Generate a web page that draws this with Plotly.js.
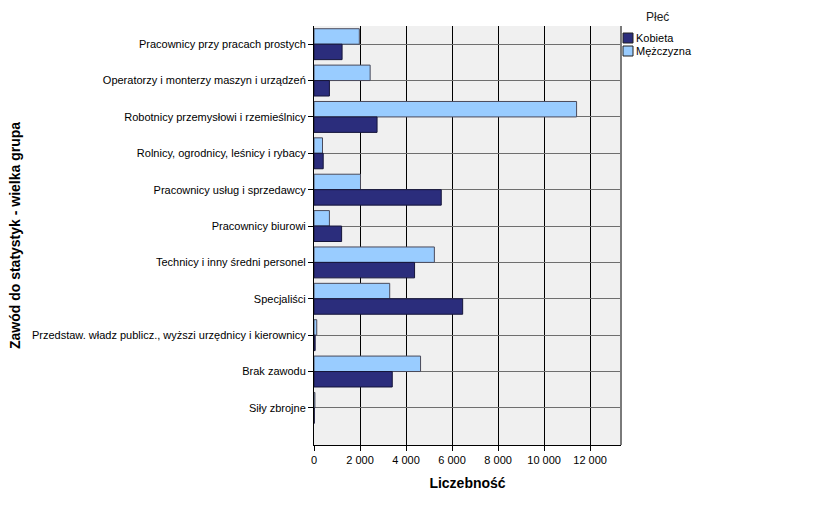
<!DOCTYPE html>
<html>
<head>
<meta charset="utf-8">
<script src="https://cdn.plot.ly/plotly-3.0.1.min.js"></script>
<style>html,body{margin:0;padding:0;background:#fff;}#chart{width:829px;height:505px;}</style>
</head>
<body>
<div id="chart"></div>
<script>
const categories = [
  "Pracownicy przy pracach prostych",
  "Operatorzy i monterzy maszyn i urządzeń",
  "Robotnicy przemysłowi i rzemieślnicy",
  "Rolnicy, ogrodnicy, leśnicy i rybacy",
  "Pracownicy usług i sprzedawcy",
  "Pracownicy biurowi",
  "Technicy i inny średni personel",
  "Specjaliści",
  "Przedstaw. władz publicz., wyższi urzędnicy i kierownicy",
  "Brak zawodu",
  "Siły zbrojne"
];
const kobieta = [1220, 670, 2740, 400, 5530, 1200, 4370, 6460, 50, 3400, 10];
const mezczyzna = [1970, 2440, 11410, 370, 2020, 670, 5230, 3290, 120, 4630, 40];
const xTicks = [0, 2000, 4000, 6000, 8000, 10000, 12000];
const seriesNames = ["Kobieta", "Mężczyzna"];
const legendTitle = "Płeć";

const colKobieta = "#2B2D7C";
const colMezczyzna = "#99CCFF";
const fontFam = "Arial, 'Liberation Sans', sans-serif";

const traces = [
  {
    type: "bar", orientation: "h", name: seriesNames[1],
    y: categories, x: mezczyzna,
    marker: {color: colMezczyzna, line: {color: "#4a4a5a", width: 1}},
    showlegend: false
  },
  {
    type: "bar", orientation: "h", name: seriesNames[0],
    y: categories, x: kobieta,
    marker: {color: colKobieta, line: {color: "#15153a", width: 1}},
    showlegend: false
  }
];

// legend drawn in paper coordinates (plot area: x 314..621, y 26..445)
const W = 307, H = 419;
const px = v => (v - 314) / W;
const py = v => 1 - (v - 26) / H;
const legendItems = [
  {name: seriesNames[0], color: colKobieta, top: 33},
  {name: seriesNames[1], color: colMezczyzna, top: 46}
];
const shapes = [
  {type: "line", xref: "paper", yref: "paper", x0: 1, x1: 1, y0: 0, y1: 1, line: {color: "#7a7a7a", width: 2}}
];
const annotations = [
  {xref: "paper", yref: "paper", x: px(657), y: py(17), xanchor: "center", yanchor: "middle",
   text: legendTitle, showarrow: false, font: {family: fontFam, size: 12, color: "#222"}}
];
legendItems.forEach(it => {
  shapes.push({type: "rect", xref: "paper", yref: "paper", x0: px(623), x1: px(633), y0: py(it.top), y1: py(it.top + 10),
               fillcolor: it.color, line: {color: "#222", width: 1}});
  annotations.push({xref: "paper", yref: "paper", x: px(634), y: py(it.top + 5), xanchor: "left", yanchor: "middle",
                    text: it.name, showarrow: false, font: {family: fontFam, size: 11, color: "#000"}});
});

const layout = {
  width: 829, height: 505,
  margin: {l: 314, r: 208, t: 26, b: 60},
  paper_bgcolor: "#ffffff",
  plot_bgcolor: "#F0F0F0",
  font: {family: fontFam, size: 11, color: "#000"},
  barmode: "group",
  bargap: 0.15,
  bargroupgap: 0,
  showlegend: false,
  xaxis: {
    range: [0, 13340],
    tickvals: xTicks,
    ticktext: xTicks.map(v => String(v).replace(/\B(?=(\d{3})+(?!\d))/g, " ")),
    ticks: "outside", ticklen: 5, tickcolor: "#000",
    showgrid: true, gridcolor: "#000", gridwidth: 1,
    showline: true, linecolor: "#000", linewidth: 1,
    zeroline: false,
    title: {text: "Liczebność", font: {size: 14, family: fontFam, weight: "bold"}, standoff: 12},
    fixedrange: true
  },
  yaxis: {
    type: "category",
    categoryorder: "array", categoryarray: categories,
    range: [11.02, -0.5],
    ticks: "outside", ticklen: 5, tickcolor: "#000",
    showgrid: true, gridcolor: "#6e6e6e", gridwidth: 1,
    showline: true, linecolor: "#000", linewidth: 1,
    title: {text: "Zawód do statystyk - wielka grupa", font: {size: 14, weight: "bold"}, standoff: 8},
    fixedrange: true
  },
  shapes: shapes,
  annotations: annotations
};

Plotly.newPlot("chart", traces, layout, {displayModeBar: false, staticPlot: true});
</script>
</body>
</html>
